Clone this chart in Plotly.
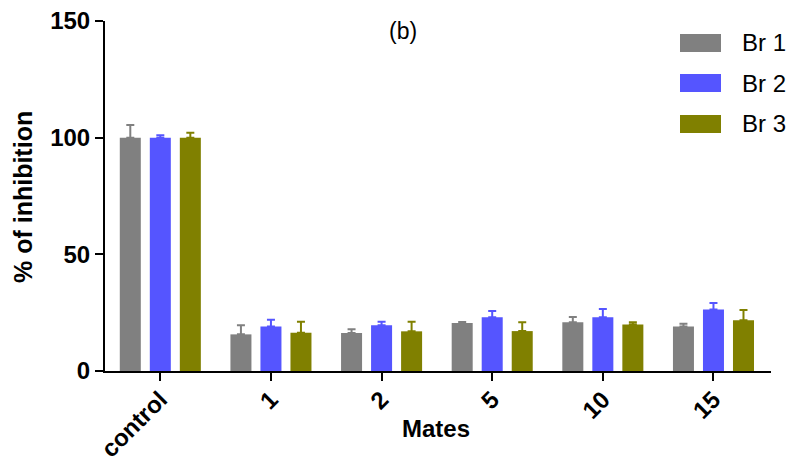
import plotly.graph_objects as go

categories = ["control", "1", "2", "5", "10", "15"]
series_names = ["Br 1", "Br 2", "Br 3"]
br1 = [100.0, 15.7, 16.3, 20.6, 20.9, 19.1]
br2 = [100.0, 19.1, 19.6, 23.0, 23.0, 26.4]
br3 = [100.0, 16.4, 17.0, 17.1, 19.9, 21.7]
br1_err = [5.4, 3.9, 1.6, 0.4, 2.2, 1.2]
br2_err = [1.0, 2.9, 1.5, 2.7, 3.6, 2.7]
br3_err = [2.1, 4.7, 4.1, 3.8, 1.0, 4.4]
colors = ["#808080", "#5555FF", "#808000"]
y_ticks = [0, 50, 100, 150]

FONT = "Liberation Sans, Arial, sans-serif"
L, R, T, B = 105, 23, 21, 86
W, H = 794, 457
PW, PH = W - L - R, H - T - B


def px(xp):
    return (xp - L) / PW


def py(yp):
    return 1 - (yp - T) / PH


fig = go.Figure()
xs = list(range(len(categories)))
for name, vals, errs, col in zip(series_names, [br1, br2, br3], [br1_err, br2_err, br3_err], colors):
    fig.add_trace(go.Bar(
        x=xs, y=vals, name=name,
        marker=dict(color=col, line=dict(width=0)),
        error_y=dict(type="data", array=errs, symmetric=False, arrayminus=[0] * len(errs),
                     color=col, thickness=2, width=4),
        showlegend=False,
    ))

fig.update_layout(
    width=W, height=H,
    margin=dict(l=L, r=R, t=T, b=B, autoexpand=False),
    paper_bgcolor="white", plot_bgcolor="white",
    barmode="group", bargap=0.186, bargroupgap=0.3,
    font=dict(family=FONT, color="black"),
    showlegend=False,
)
fig.update_xaxes(
    range=[-0.5, 5.52], tickmode="array", tickvals=xs, ticktext=categories,
    tickangle=-45, ticks="outside", ticklen=8, tickwidth=2, tickcolor="black",
    showline=True, linecolor="black", linewidth=2, showgrid=False, zeroline=False,
    tickfont=dict(size=24, family=FONT, weight="bold"), automargin=False,
    ticklabelstandoff=-5,
)
fig.update_yaxes(
    range=[0, 150], tickmode="array", tickvals=y_ticks,
    ticks="outside", ticklen=8, tickwidth=2, tickcolor="black",
    showline=True, linecolor="black", linewidth=2, showgrid=False, zeroline=False,
    tickfont=dict(size=24, family=FONT, weight="bold"), automargin=False,
)

# axis titles
fig.add_annotation(text="% of inhibition", xref="paper", yref="paper",
                   x=px(23), y=py(197), textangle=-90,
                   xanchor="center", yanchor="middle", showarrow=False,
                   font=dict(size=25, family=FONT, weight="bold"))
fig.add_annotation(text="Mates", xref="paper", yref="paper",
                   x=px(436), y=py(428),
                   xanchor="center", yanchor="middle", showarrow=False,
                   font=dict(size=24, family=FONT, weight="bold"))

# title "(b)"
fig.add_annotation(text="(b)", xref="paper", yref="paper",
                   x=px(403), y=py(31),
                   xanchor="center", yanchor="middle", showarrow=False,
                   font=dict(size=23, family=FONT))

# custom legend
leg_rows = [43, 83, 124]
for name, col, yc in zip(series_names, colors, leg_rows):
    fig.add_shape(type="rect", xref="paper", yref="paper",
                  x0=px(680), x1=px(721), y0=py(yc + 9), y1=py(yc - 9),
                  fillcolor=col, line=dict(width=0))
    fig.add_annotation(text=name, xref="paper", yref="paper",
                       x=px(740), y=py(yc),
                       xanchor="left", yanchor="middle", showarrow=False,
                       font=dict(size=24, family=FONT))

fig.write_html("out.html", config={"displayModeBar": False},
               post_script="document.body.style.margin='0';document.body.style.overflow='hidden';")
